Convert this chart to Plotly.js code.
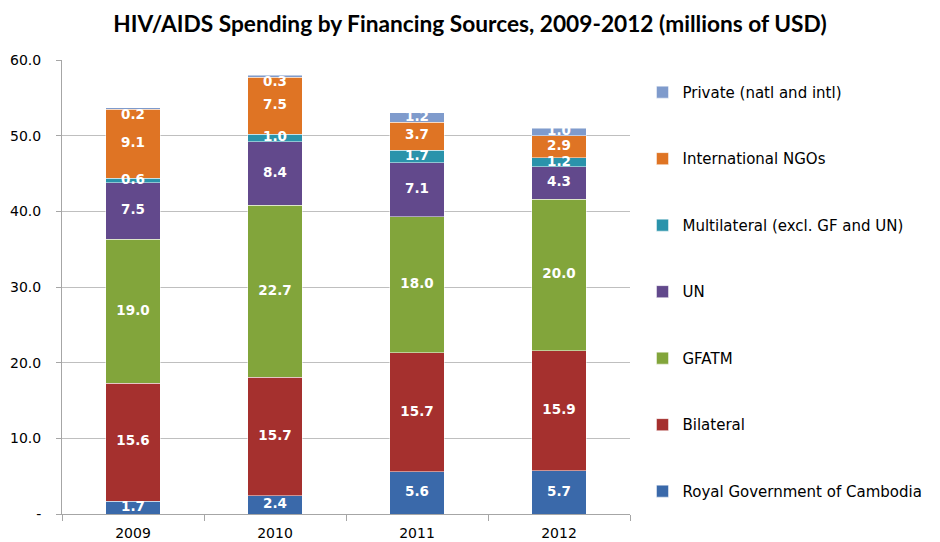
<!DOCTYPE html>
<html>
<head>
<meta charset="utf-8">
<script src="https://cdn.plot.ly/plotly-3.0.1.min.js"></script>
<style>html,body{margin:0;padding:0;background:#fff;}#chart{width:940px;height:542px;}</style>
</head>
<body>
<div id="chart"></div>
<script>
const years = ["2009", "2010", "2011", "2012"];
const seriesNames = ["Royal Government of Cambodia", "Bilateral", "GFATM", "UN", "Multilateral (excl. GF and UN)", "International NGOs", "Private (natl and intl)"];
const rgc = [1.7, 2.4, 5.6, 5.7];
const bilateral = [15.6, 15.7, 15.7, 15.9];
const gfatm = [19.0, 22.7, 18.0, 20.0];
const un = [7.5, 8.4, 7.1, 4.3];
const multilateral = [0.6, 1.0, 1.7, 1.2];
const ingos = [9.1, 7.5, 3.7, 2.9];
const privateSrc = [0.2, 0.3, 1.2, 1.0];
const yTickVals = [0, 10, 20, 30, 40, 50, 60];
const yTickText = ["-", "10.0", "20.0", "30.0", "40.0", "50.0", "60.0"];

const seriesValues = [rgc, bilateral, gfatm, un, multilateral, ingos, privateSrc];
const colors = ["#3a69aa", "#a5302e", "#82a53b", "#62498c", "#2a93ab", "#df7424", "#7f9bcc"];
const FONT = "'DejaVu Sans', 'Liberation Sans', sans-serif";

const traces = seriesNames.map((name, i) => ({
  type: "bar",
  name: name,
  x: years,
  y: seriesValues[i],
  legendgroup: "g" + i,
  legendrank: 100 - i,
  marker: { color: colors[i], line: { color: "rgba(255,255,255,0.6)", width: 0.8 } },
  textposition: "none",
  hoverinfo: "name+y"
}));

// Data labels drawn on top of all bars, centred in each stacked segment
const base = years.map(() => 0);
seriesValues.forEach((vals, i) => {
  const mids = vals.map((v, j) => base[j] + v / 2);
  vals.forEach((v, j) => { base[j] += v; });
  const isTop = i === seriesValues.length - 1;
  traces.push({
    type: "scatter",
    mode: "text",
    x: years,
    y: mids,
    text: vals.map(v => "<b>" + v.toFixed(1) + "</b>"),
    textposition: vals.map(v => (isTop && v < 0.5) ? "bottom center" : "middle center"),
    textfont: { color: "#ffffff", size: 13.5, family: FONT },
    showlegend: false,
    hoverinfo: "skip",
    cliponaxis: false
  });
});

const layout = {
  width: 940,
  height: 542,
  margin: { l: 62, r: 306, t: 60, b: 28 },
  paper_bgcolor: "#ffffff",
  plot_bgcolor: "#ffffff",
  barmode: "stack",
  bargap: 0.615,
  font: { family: FONT, color: "#000000" },
  title: {
    text: "<b>HIV/AIDS Spending by Financing Sources, 2009-2012 (millions of USD)</b>",
    x: 0.5, xref: "container", xanchor: "center",
    y: 0.955, yref: "container", yanchor: "middle",
    font: { size: 22.7, family: "Lato, 'Liberation Sans', sans-serif", color: "#000000" }
  },
  xaxis: {
    type: "category",
    showline: true, linecolor: "#a6a6a6", linewidth: 1,
    ticks: "outside", tickson: "boundaries", ticklen: 6, tickcolor: "#a6a6a6",
    tickfont: { size: 14, family: FONT },
    ticklabelstandoff: 6,
    showgrid: false, zeroline: false
  },
  yaxis: {
    range: [0, 60],
    tickvals: yTickVals, ticktext: yTickText,
    showline: true, linecolor: "#a6a6a6", linewidth: 1,
    ticks: "outside", ticklen: 5, tickcolor: "#a6a6a6",
    showgrid: true, gridcolor: "#bfbfbf", gridwidth: 1,
    zeroline: false,
    tickfont: { size: 14, family: FONT },
    ticklabelstandoff: 12
  },
  showlegend: true,
  legend: {
    x: 1.022, xanchor: "left",
    y: 0.965, yanchor: "top",
    traceorder: "grouped",
    tracegroupgap: 44,
    font: { size: 15, family: FONT },
    bgcolor: "rgba(0,0,0,0)"
  }
};

Plotly.newPlot("chart", traces, layout, { displayModeBar: false, staticPlot: true });
</script>
</body>
</html>
